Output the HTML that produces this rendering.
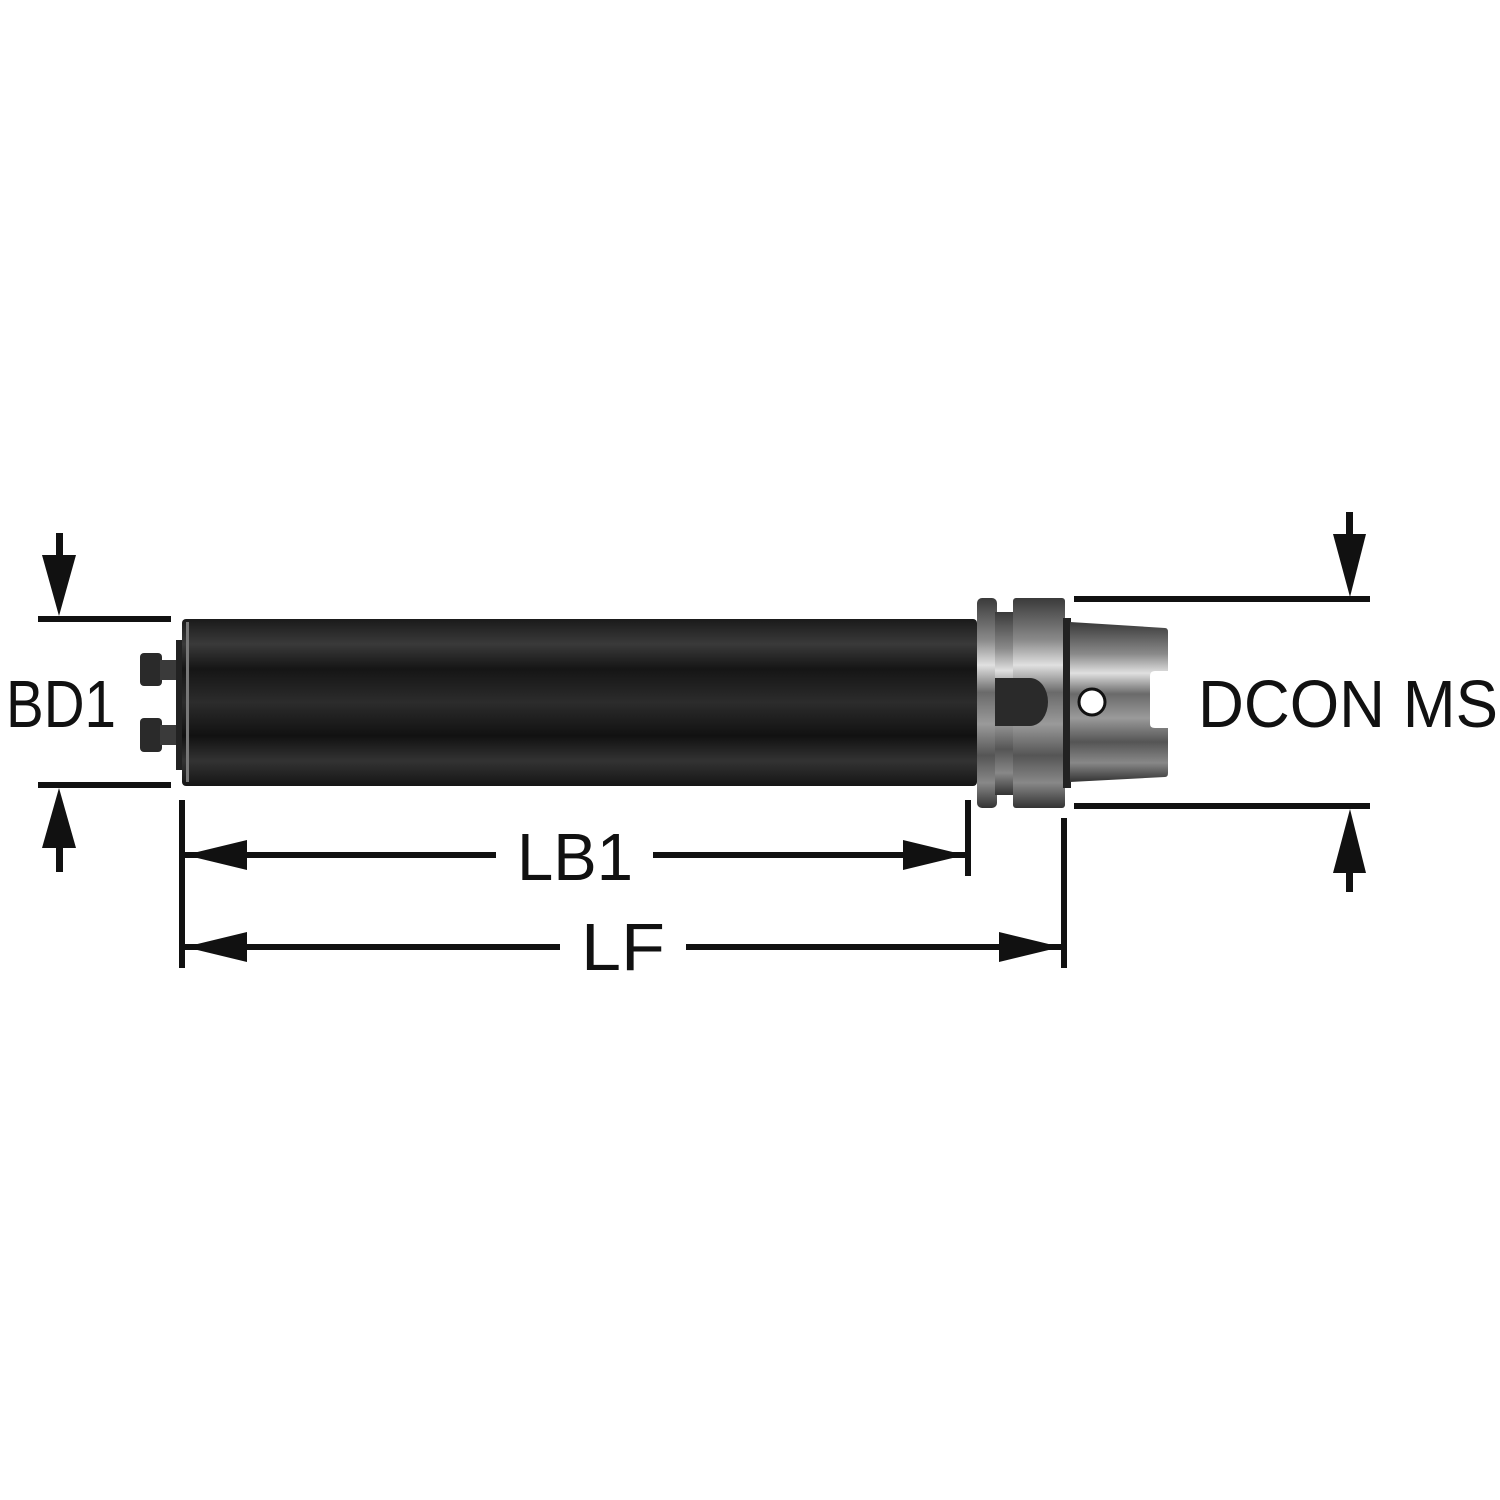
<!DOCTYPE html>
<html><head><meta charset="utf-8"><style>html,body{margin:0;padding:0;background:#fff}svg{display:block}</style></head>
<body>
<svg width="1500" height="1500" viewBox="0 0 1500 1500" xmlns="http://www.w3.org/2000/svg">
<defs>
<linearGradient id="body" x1="0" y1="0" x2="0" y2="1">
<stop offset="0" stop-color="#1a1a1a"/><stop offset="0.15" stop-color="#3a3a3a"/><stop offset="0.3" stop-color="#151515"/>
<stop offset="0.5" stop-color="#2c2c2c"/><stop offset="0.7" stop-color="#111"/><stop offset="0.85" stop-color="#333"/><stop offset="1" stop-color="#151515"/>
</linearGradient>
<linearGradient id="steel" x1="0" y1="0" x2="0" y2="1">
<stop offset="0" stop-color="#3a3a3a"/><stop offset="0.2" stop-color="#8a8a8a"/><stop offset="0.32" stop-color="#e0e0e0"/>
<stop offset="0.45" stop-color="#6a6a6a"/><stop offset="0.6" stop-color="#9a9a9a"/><stop offset="0.75" stop-color="#555"/>
<stop offset="0.88" stop-color="#888"/><stop offset="1" stop-color="#333"/>
</linearGradient>
</defs>
<g fill="#111">
<!-- BD1 -->
<rect x="38" y="616" width="133" height="6"/><rect x="38" y="782" width="133" height="6"/>
<rect x="56" y="533" width="7" height="30"/><polygon points="42,555 76,555 59,616"/>
<rect x="56" y="840" width="7" height="32"/><polygon points="42,848 76,848 59,788"/>
<!-- DCON -->
<rect x="1074" y="596" width="296" height="6"/><rect x="1074" y="803" width="296" height="6"/>
<rect x="1346" y="512" width="7" height="30"/><polygon points="1333,534 1366,534 1350,597"/>
<rect x="1346" y="865" width="7" height="27"/><polygon points="1333,873 1366,873 1350,809"/>
<!-- verticals -->
<rect x="179" y="800" width="6" height="168"/><rect x="965" y="800" width="6" height="76"/><rect x="1061" y="818" width="6" height="150"/>
<!-- LB1 -->
<rect x="185" y="852" width="311" height="6"/><rect x="653" y="852" width="312" height="6"/>
<polygon points="185,855 247,840 247,870"/><polygon points="965,855 903,840 903,870"/>
<!-- LF -->
<rect x="185" y="944" width="375" height="6"/><rect x="686" y="944" width="375" height="6"/>
<polygon points="185,947 247,932 247,962"/><polygon points="1061,947 999,932 999,962"/>
</g>
<g font-family="Liberation Sans, sans-serif" font-size="67" fill="#111">
<text x="6" y="727" textLength="110" lengthAdjust="spacingAndGlyphs">BD1</text>
<text x="1198" y="727" textLength="300" lengthAdjust="spacingAndGlyphs">DCON MS</text>
<text x="517" y="880" textLength="116" lengthAdjust="spacingAndGlyphs">LB1</text>
<text x="581" y="970" textLength="84" lengthAdjust="spacingAndGlyphs">LF</text>
</g>
<!-- screws -->
<g>
<rect x="140" y="653" width="22" height="33" rx="4" fill="#2a2a2a"/><rect x="160" y="660" width="20" height="20" fill="#3a3a3a"/>
<rect x="140" y="718" width="22" height="34" rx="4" fill="#2a2a2a"/><rect x="160" y="725" width="20" height="20" fill="#3a3a3a"/>
<rect x="176" y="640" width="10" height="130" fill="#222"/>
</g>
<!-- body -->
<rect x="182" y="619" width="795" height="167" rx="4" fill="url(#body)"/>
<rect x="186" y="622" width="3" height="160" fill="#777"/>
<!-- flange -->
<rect x="977" y="598" width="20" height="210" rx="5" fill="url(#steel)"/>
<rect x="995" y="612" width="18" height="183" fill="url(#steel)"/>
<rect x="1013" y="598" width="52" height="210" rx="3" fill="url(#steel)"/>
<path d="M995,678 H1030 A18,24 0 0 1 1030,726 H995 Z" fill="#2a2a2a"/>
<!-- taper -->
<rect x="1063" y="618" width="8" height="170" fill="#222"/>
<path d="M1070,622 L1165,628 Q1168,628 1168,632 V671 H1155 Q1150,671 1150,676 V724 Q1150,728 1155,728 H1168 V773 Q1168,777 1165,777 L1070,782 Z" fill="url(#steel)"/>
<circle cx="1092" cy="702" r="13" fill="#fff" stroke="#111" stroke-width="3"/>
</svg>
</body></html>
